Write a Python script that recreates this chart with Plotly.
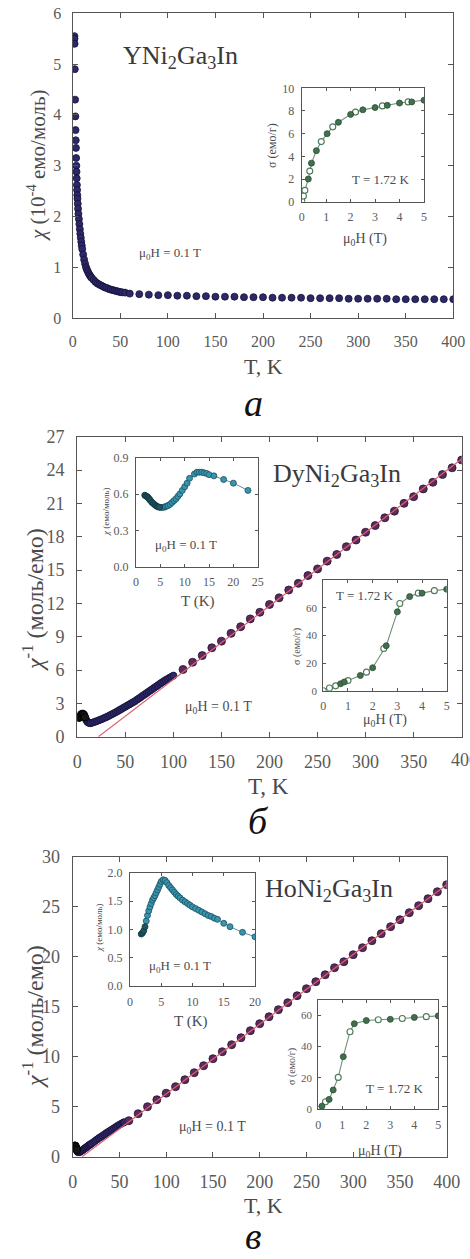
import plotly.graph_objects as go
import numpy as np

# ---------------- DATA ----------------
# Panel a: YNi2Ga3In, chi (1e-4 emu/mol) vs T
a_T = [1.8, 1.9, 2.0, 2.2, 2.5, 2.8, 3.0, 3.2, 3.4, 3.6, 3.8, 4.0, 4.2, 4.4, 4.6, 4.8, 5.0, 5.3, 5.6, 6.0,
       6.5, 7.0, 7.5, 8.0, 8.5, 9.0, 9.5, 10, 11, 12, 13, 14, 15, 16, 17, 18, 19, 20, 22, 24, 26, 28, 30,
       32, 34, 36, 38, 40, 42, 44, 46, 48, 50, 52, 55,
       60, 70, 80, 90, 100, 110, 120, 130, 140, 150, 160, 170, 180, 190, 200, 210, 220, 230, 240, 250,
       260, 270, 280, 290, 300, 310, 320, 330, 340, 350, 360, 370, 380, 390, 400]
a_chi = [5.55, 5.5, 5.4, 4.9, 4.3, 3.97, 3.7, 3.5, 3.35, 3.15, 3.0, 2.88, 2.75, 2.62, 2.52, 2.42, 2.35, 2.25, 2.15, 2.05,
         1.95, 1.85, 1.75, 1.66, 1.58, 1.5, 1.43, 1.36, 1.25, 1.15, 1.07, 1.0, 0.95, 0.91, 0.87, 0.84, 0.81, 0.79, 0.75, 0.71, 0.68, 0.66, 0.64,
         0.62, 0.6, 0.59, 0.57, 0.56, 0.55, 0.54, 0.53, 0.52, 0.51, 0.505, 0.5,
         0.48, 0.47, 0.46, 0.45, 0.45, 0.44, 0.44, 0.43, 0.43, 0.42, 0.42, 0.42, 0.41, 0.41, 0.41,
         0.40, 0.40, 0.40, 0.40, 0.39, 0.39, 0.39, 0.39, 0.38, 0.38, 0.38, 0.38, 0.38, 0.37, 0.37,
         0.37, 0.37, 0.37, 0.37, 0.37]
# inset a: sigma (emu/g) vs mu0H (T)
a_up_H = [0.27, 0.4, 0.6, 1.04, 1.5, 2.0, 2.5, 3.0, 3.5, 4.0, 4.5, 5.0]
a_up_s = [2.0, 3.4, 4.5, 6.0, 7.0, 7.7, 8.1, 8.3, 8.5, 8.7, 8.8, 8.95]
a_dn_H = [0.0, 0.07, 0.13, 0.33, 0.8, 1.27, 2.2, 3.3, 4.35]
a_dn_s = [0.1, 0.5, 1.0, 2.7, 5.3, 6.6, 7.9, 8.45, 8.8]

# Panel b: DyNi2Ga3In, 1/chi (mol/emu) vs T
b_T = [1.8, 2.5, 3, 4, 5, 6, 7, 8, 9, 10, 11, 12, 13, 14, 16, 18, 20, 22, 24, 26, 28, 30, 32, 34, 36, 38,
       40, 42, 44, 46, 48, 50, 52, 54, 56, 58, 60, 62, 64, 66, 68, 70, 72, 74, 76, 78, 80, 82, 84, 86,
       88, 90, 92, 94, 96, 98, 100,
       110, 120, 130, 140, 150, 160, 170, 180, 190, 200, 210, 220, 230, 240, 250, 260, 270, 280, 290,
       300, 310, 320, 330, 340, 350, 360, 370, 380, 390, 400]
b_inv = [1.7, 1.75, 1.85, 2.0, 2.05, 2.05, 1.95, 1.75, 1.55, 1.4, 1.3, 1.25, 1.22, 1.22, 1.27, 1.33, 1.4, 1.46, 1.53, 1.6,
         1.68, 1.76, 1.84, 1.93, 2.02, 2.11, 2.2, 2.3, 2.4, 2.5, 2.6, 2.7, 2.8, 2.9, 3.0, 3.1, 3.2, 3.32, 3.44,
         3.56, 3.68, 3.8, 3.92, 4.04, 4.16, 4.28, 4.4, 4.52, 4.64, 4.76, 4.88, 5.0, 5.1, 5.2, 5.3, 5.4, 5.5,
         6.05, 6.7, 7.3, 8.0, 8.6, 9.3, 9.9, 10.6, 11.2, 11.9, 12.5, 13.2, 13.8, 14.5, 15.1, 15.8, 16.4,
         17.1, 17.7, 18.4, 19.0, 19.7, 20.3, 21.0, 21.6, 22.3, 22.9, 23.6, 24.2, 24.9]
b_fit_T = [22, 400]
b_fit_inv = [0, 25.0]
# inset b1: chi (emu/mol) vs T (K)
b1_T = [1.8, 2.0, 2.2, 2.4, 2.6, 2.8, 3.0, 3.3, 3.6, 3.9, 4.2, 4.5, 4.8, 5.1, 5.4, 5.7, 6.0, 6.3, 6.6, 7.0,
        7.4, 7.8, 8.2, 8.6, 9.0, 9.5, 10, 10.5, 11, 12, 12.5, 13, 13.5, 14, 14.5, 15, 16, 18, 20, 23]
b1_chi = [0.59, 0.585, 0.58, 0.575, 0.565, 0.555, 0.545, 0.53, 0.52, 0.51, 0.5, 0.495, 0.49, 0.49, 0.49, 0.49,
          0.495, 0.5, 0.505, 0.515, 0.53, 0.545, 0.56, 0.58, 0.6, 0.63, 0.66, 0.69, 0.73, 0.765, 0.78, 0.78,
          0.78, 0.775, 0.77, 0.76, 0.75, 0.72, 0.69, 0.63]
# inset b2: sigma vs mu0H
b_up_H = [0.7, 0.85, 1.5, 2.0, 2.55, 3.0, 3.5, 4.0, 5.0]
b_up_s = [5.0, 6.3, 11.0, 16.6, 32.5, 57.0, 68.0, 70.5, 73.3]
b_dn_H = [0.0, 0.25, 0.5, 1.0, 1.75, 2.45, 3.1, 3.85, 4.5]
b_dn_s = [0.0, 2.0, 3.5, 7.3, 13.4, 30.5, 63.0, 70.5, 72.3]

# Panel c: HoNi2Ga3In, 1/chi (mol/emu) vs T
c_T = [1.8, 2.2, 2.6, 3.0, 3.5, 4.0, 4.5, 5, 5.5, 6, 7, 8, 9, 10, 11, 12, 13, 14, 15, 16, 17, 18, 19, 20,
       22, 24, 26, 28, 30, 32, 34, 36, 38, 40, 42, 44, 46, 48, 50, 52, 54, 55,
       60, 70, 80, 90, 100, 110, 120, 130, 140, 150, 160, 170, 180, 190, 200, 210, 220, 230, 240, 250,
       260, 270, 280, 290, 300, 310, 320, 330, 340, 350, 360, 370, 380, 390, 400]
c_inv = [1.05, 1.1, 1.1, 1.05, 0.95, 0.8, 0.65, 0.55, 0.48, 0.45, 0.45, 0.5, 0.56, 0.62, 0.69, 0.76, 0.83, 0.9,
         0.97, 1.04, 1.11, 1.18, 1.25, 1.3, 1.44, 1.58, 1.72, 1.86, 1.97, 2.1, 2.23, 2.36, 2.48, 2.6, 2.72,
         2.84, 2.96, 3.08, 3.2, 3.3, 3.4, 3.45,
         3.6, 4.3, 5.0, 5.7, 6.35, 7.0, 7.7, 8.4, 9.1, 9.8, 10.5, 11.2, 11.9, 12.6, 13.3, 14.0, 14.7, 15.4,
         16.1, 16.8, 17.5, 18.2, 18.9, 19.5, 20.2, 20.9, 21.6, 22.3, 23.0, 23.7, 24.4, 25.1, 25.8, 26.5, 27.2]
c_fit_T = [10, 400]
c_fit_inv = [0, 27.2]
# inset c1: chi (emu/mol) vs T (K)
c1_T = [1.8, 2.0, 2.2, 2.4, 2.6, 2.8, 3.0, 3.2, 3.4, 3.6, 3.8, 4.0, 4.2, 4.4, 4.6, 4.8, 5.0, 5.3, 5.6, 5.9,
        6.2, 6.5, 6.8, 7.1, 7.4, 7.7, 8.0, 8.4, 8.8, 9.2, 9.6, 10, 10.5, 11, 11.5, 12, 12.5, 13, 13.5, 14,
        15, 16, 18, 20]
c1_chi = [0.92, 0.94, 0.98, 1.05, 1.15, 1.25, 1.33, 1.40, 1.46, 1.52, 1.56, 1.60, 1.65, 1.70, 1.75, 1.80, 1.85,
          1.88, 1.87, 1.83, 1.78, 1.74, 1.70, 1.66, 1.62, 1.59, 1.56, 1.52, 1.49, 1.46, 1.43, 1.40, 1.37, 1.34,
          1.31, 1.28, 1.25, 1.23, 1.20, 1.18, 1.11, 1.05, 0.95, 0.87]
# inset c2: sigma vs mu0H
c_up_H = [0.15, 0.45, 0.62, 1.04, 1.5, 2.0, 3.0, 4.0, 5.0]
c_up_s = [2.0, 6.3, 12.3, 33.5, 54.5, 56.5, 57.3, 58.5, 59.5]
c_dn_H = [0.0, 0.3, 0.83, 1.32, 2.5, 3.5, 4.5]
c_dn_s = [0.0, 4.8, 20.3, 49.4, 57.0, 57.8, 59.0]

# ---------------- LAYOUT HELPERS ----------------
W, H = 470, 1259
FONT = "Liberation Serif, Times New Roman, serif"
AX = "#555555"
TXT = "#4a4a4a"


def dx(a, b):
    return [a / W, b / W]


def dy(top, bottom):
    return [1 - bottom / H, 1 - top / H]


fig = go.Figure()


def axis(domain, anchor, rng, dtick, size, ticklen, standoff, tick0=0, fmt=None):
    d = dict(domain=domain, anchor=anchor, range=rng, dtick=dtick, tick0=tick0,
             showline=True, linecolor=AX, linewidth=1.3, mirror="ticks",
             ticks="inside", ticklen=ticklen, tickwidth=1.2, tickcolor=AX,
             showgrid=False, zeroline=False, automargin=False,
             tickfont=dict(family=FONT, size=size, color="#5a5a5a"),
             ticklabelstandoff=standoff, fixedrange=True)
    if fmt:
        d["tickformat"] = fmt
    return d


layout = {}
# 1: a main
layout["xaxis"] = axis(dx(72.7, 453.3), "y", [0, 400], 50, 16, 5, 9)
layout["yaxis"] = axis(dy(13.3, 318), "x", [0, 6], 1, 16, 5, 7)
# 2: a inset
layout["xaxis2"] = axis(dx(301.7, 424), "y2", [0, 5], 1, 12, 3, 4)
layout["yaxis2"] = axis(dy(88.3, 201.7), "x2", [0, 10], 2, 12, 3, 4)
# 3: b main
layout["xaxis3"] = axis(dx(77.3, 461.7), "y3", [0, 400], 50, 18, 5, 9)
layout["yaxis3"] = axis(dy(436.7, 736.7), "x3", [0, 27], 3, 18, 5, 8)
# 4: b inset1
layout["xaxis4"] = axis(dx(136, 257.7), "y4", [0, 25], 5, 12, 3, 4)
layout["yaxis4"] = axis(dy(457.7, 566.7), "x4", [0, 0.9], 0.3, 12, 3, 4, fmt=".1f")
# 5: b inset2
layout["xaxis5"] = axis(dx(323.3, 446.7), "y5", [0, 5], 1, 12, 3, 4)
layout["yaxis5"] = axis(dy(580, 690.7), "x5", [0, 80], 20, 11, 3, 3)
layout["yaxis5"]["tickvals"] = [0, 20, 40, 60]
# 6: c main
layout["xaxis6"] = axis(dx(72.7, 446.7), "y6", [0, 400], 50, 18, 5, 9)
layout["yaxis6"] = axis(dy(856.7, 1156.7), "x6", [0, 30], 5, 18, 5, 8)
# 7: c inset1
layout["xaxis7"] = axis(dx(130, 255), "y7", [0, 20], 5, 12, 3, 4)
layout["yaxis7"] = axis(dy(873, 986), "x7", [0, 2.0], 0.5, 12, 3, 4, fmt=".1f")
# 8: c inset2
layout["xaxis8"] = axis(dx(318.3, 438.3), "y8", [0, 5], 1, 12, 3, 4)
layout["yaxis8"] = axis(dy(1000, 1109.3), "x8", [0, 69.6], 20, 11, 3, 3)
layout["yaxis8"]["tickvals"] = [0, 20, 40, 60]

# ---------------- TRACES ----------------
NAVY = "#2d2868"
NAVY_E = "#15123a"
PLUM = "#5b2a5e"
PLUM_E = "#2a1230"
BLACK = "#161616"
RED = "#e0606a"
TEAL = "#3795b0"
TEAL_D = "#1f5563"
TEAL_E = "#1d4f5e"
GREEN = "#41704d"
GREEN_E = "#2c4d35"
GLINE = "#708f74"


def scatter(x, y, xa, ya, color, edge, size, lw=0.8):
    fig.add_trace(go.Scatter(x=x, y=y, xaxis=xa, yaxis=ya, mode="markers", showlegend=False,
                             hoverinfo="skip", cliponaxis=True,
                             marker=dict(size=size, color=color, line=dict(color=edge, width=lw))))


# panel a
scatter(a_T, a_chi, "x", "y", NAVY, NAVY_E, 7)


def sigma_inset(up_H, up_s, dn_H, dn_s, xa, ya, size):
    H_all = np.array(list(up_H) + list(dn_H))
    s_all = np.array(list(up_s) + list(dn_s))
    order = np.argsort(H_all, kind="stable")
    fig.add_trace(go.Scatter(x=H_all[order], y=s_all[order], xaxis=xa, yaxis=ya, mode="lines",
                             line=dict(color=GLINE, width=1.1), showlegend=False, hoverinfo="skip"))
    scatter(dn_H, dn_s, xa, ya, "white", "#4d7a58", size, lw=1.1)
    scatter(up_H, up_s, xa, ya, GREEN, GREEN_E, size)


sigma_inset(a_up_H, a_up_s, a_dn_H, a_dn_s, "x2", "y2", 6)


def inverse_panel(T, inv, fit_T, fit_inv, xa, ya, t_black, t_sparse):
    T = np.array(T)
    inv = np.array(inv)
    m1 = T < t_black
    m2 = (T >= t_black) & (T <= t_sparse)
    m3 = T > t_sparse
    scatter(T[m2], inv[m2], xa, ya, NAVY, NAVY_E, 7)
    scatter(T[m1], inv[m1], xa, ya, BLACK, "#000000", 7.5)
    scatter(T[m3], inv[m3], xa, ya, PLUM, PLUM_E, 8)
    fig.add_trace(go.Scatter(x=fit_T, y=fit_inv, xaxis=xa, yaxis=ya, mode="lines",
                             line=dict(color=RED, width=1.2), showlegend=False, hoverinfo="skip"))


inverse_panel(b_T, b_inv, b_fit_T, b_fit_inv, "x3", "y3", 9, 100)


def chi_inset(T, chi, xa, ya, t_dark):
    T = np.array(T)
    chi = np.array(chi)
    fig.add_trace(go.Scatter(x=T, y=chi, xaxis=xa, yaxis=ya, mode="lines",
                             line=dict(color="#5d8f99", width=1), showlegend=False, hoverinfo="skip"))
    m = T < t_dark
    scatter(T[~m], chi[~m], xa, ya, TEAL, TEAL_E, 6)
    scatter(T[m], chi[m], xa, ya, TEAL_D, "#12343d", 6)


chi_inset(b1_T, b1_chi, "x4", "y4", 5)
sigma_inset(b_up_H, b_up_s, b_dn_H, b_dn_s, "x5", "y5", 6)

inverse_panel(c_T, c_inv, c_fit_T, c_fit_inv, "x6", "y6", 5, 56)
chi_inset(c1_T, c1_chi, "x7", "y7", 2.5)
sigma_inset(c_up_H, c_up_s, c_dn_H, c_dn_s, "x8", "y8", 6)

# ---------------- TEXT ----------------
ann = []


def text(s, x, y, size, color=TXT, angle=0, italic=False, xanchor="center"):
    if italic:
        s = "<i>" + s + "</i>"
    ann.append(dict(text=s, x=x / W, y=1 - y / H, xref="paper", yref="paper", showarrow=False,
                    xanchor=xanchor, yanchor="middle", textangle=angle,
                    font=dict(family=FONT, size=size, color=color)))


MU = "μ<sub>0</sub>H"
# panel a
text("YNi<sub>2</sub>Ga<sub>3</sub>In", 180, 57, 26, "#3a3a3a")
text(MU + " = 0.1 T", 170, 253, 13)
text("T = 1.72 K", 381, 180, 13)
text(MU + " (T)", 365, 240, 14)
text("σ (емо/г)", 272, 146, 12, angle=-90)
text("T, K", 263, 366, 22)
text("<i>χ</i> (10<sup>-4</sup> емо/моль)", 37, 165, 21, angle=-90)
text("а", 253, 403, 38, "#111111", italic=True)
# panel b
text("DyNi<sub>2</sub>Ga<sub>3</sub>In", 337, 475, 26, "#3a3a3a")
text(MU + " = 0.1 T", 218, 707, 14)
text(MU + " = 0.1 T", 186, 545, 13)
text("T (K)", 197, 601, 15)
text("<i>χ</i> (емо/моль)", 106, 512, 9, angle=-90)
text("T = 1.72 K", 365, 595, 13)
text("σ (емо/г)", 297, 647, 10, angle=-90)
text(MU + " (T)", 385, 721, 14)
text("T, K", 268, 786, 23)
text("400", 449, 760, 18, "#5a5a5a", xanchor="left")
text("<i>χ</i><sup>-1</sup> (моль/емо)", 33, 600, 24, angle=-90)
text("б", 258, 821, 38, "#111111", italic=True)
# panel c
text("HoNi<sub>2</sub>Ga<sub>3</sub>In", 329, 890, 26, "#3a3a3a")
text(MU + " = 0.1 T", 212, 1127, 14)
text(MU + " = 0.1 T", 180, 966, 13)
text("T (K)", 190, 1021, 15)
text("<i>χ</i> (емо/моль)", 99, 928, 9, angle=-90)
text("T = 1.72 K", 395, 1088, 13)
text("σ (емо/г)", 292, 1067, 10, angle=-90)
text(MU + " (T)", 380, 1151, 14)
text("T, K", 263, 1205, 22)
text("<i>χ</i><sup>-1</sup> (моль/емо)", 33, 1017, 24, angle=-90)
text("в", 253, 1236, 38, "#111111", italic=True)

fig.update_layout(**layout)
fig.update_layout(width=W, height=H, margin=dict(l=0, r=0, t=0, b=0),
                  paper_bgcolor="white", plot_bgcolor="white", annotations=ann,
                  font=dict(family=FONT))

fig.write_html("out.html", config={"displayModeBar": False})
